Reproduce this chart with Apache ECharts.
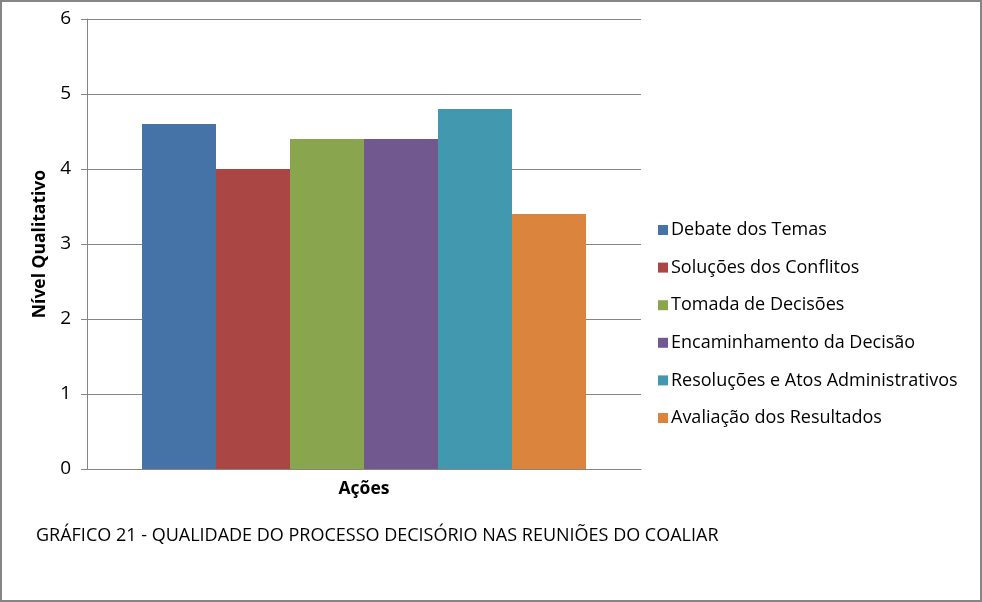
<!DOCTYPE html>
<html>
<head>
<meta charset="utf-8">
<script src="https://cdn.jsdelivr.net/npm/echarts@6/dist/echarts.min.js"></script>
<style>
html,body{margin:0;padding:0;background:#fff;}
#wrap{position:absolute;left:0;top:0;width:978px;height:598px;border:2px solid #858585;}
#chart{width:978px;height:598px;}
</style>
</head>
<body>
<div id="wrap"><div id="chart"></div></div>
<script>
const categories = ['Ações'];
const seriesNames = ['Debate dos Temas','Soluções dos Conflitos','Tomada de Decisões','Encaminhamento da Decisão','Resoluções e Atos Administrativos','Avaliação dos Resultados'];
const seriesValues = [4.6, 4.0, 4.4, 4.4, 4.8, 3.4];
const colors = ['#4572A7','#AA4643','#89A54E','#71588F','#4198AF','#DB843D'];
const yTicks = [0,1,2,3,4,5,6];
const caption = 'GRÁFICO 21 - QUALIDADE DO PROCESSO DECISÓRIO NAS REUNIÕES DO COALIAR';
const FONT = 'Open Sans';

const chart = echarts.init(document.getElementById('chart'));
chart.setOption({
  animation:false,
  textStyle:{fontFamily:FONT},
  grid:{left:85,top:17,width:554,height:450,containLabel:false},
  legend:{
    orient:'vertical', left:651, top:214, itemWidth:10, itemHeight:10, itemGap:19.6,
    icon:'rect',
    textStyle:{fontSize:18, lineHeight:18, color:'#000', fontFamily:FONT, padding:[0,0,0,-2]},
    data:seriesNames
  },
  xAxis:{
    type:'category', data:categories,
    name:'Ações', nameLocation:'middle', nameGap:11,
    nameTextStyle:{fontSize:17.5,fontWeight:'bold',color:'#000',fontFamily:FONT},
    axisLine:{lineStyle:{color:'#868686'}},
    axisTick:{show:false}, axisLabel:{show:false}
  },
  yAxis:{
    type:'value', min:yTicks[0], max:yTicks[yTicks.length-1], interval:1,
    name:'Nível Qualitativo', nameLocation:'middle', nameGap:38, nameRotate:90,
    nameTextStyle:{fontSize:17.5,fontWeight:'bold',color:'#000',fontFamily:FONT},
    axisLine:{show:true,lineStyle:{color:'#868686'}},
    axisTick:{show:true,length:6,lineStyle:{color:'#868686'}},
    axisLabel:{fontSize:19,color:'#000',margin:16,fontFamily:FONT},
    splitLine:{lineStyle:{color:'#868686'}}
  },
  series: seriesNames.map((n,i)=>({
    name:n, type:'bar', data:[seriesValues[i]], barWidth:74, barGap:'0%',
    itemStyle:{color:colors[i]}
  })),
  graphic:[{
    type:'text', left:34, top:525,
    style:{text:caption, fontSize:18, fill:'#000', fontFamily:FONT}
  }]
});
</script>
</body>
</html>
